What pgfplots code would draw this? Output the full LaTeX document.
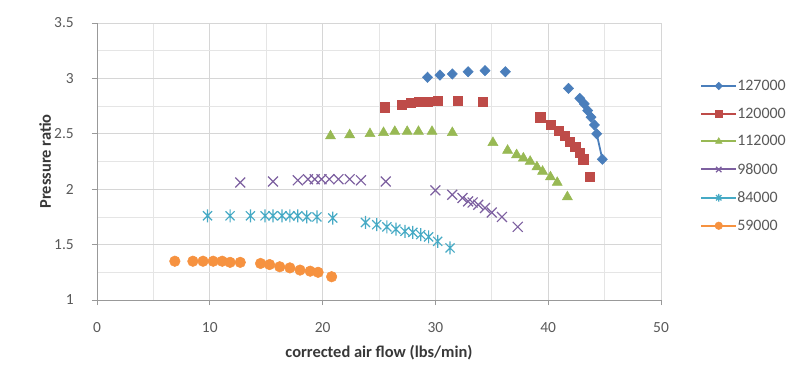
\documentclass[border=0pt]{standalone}
\usepackage{fontspec}
\setmainfont{Carlito}
\usepackage{pgfplots}
\pgfplotsset{compat=1.18}

\definecolor{cBlue}{HTML}{4A7EBB}
\definecolor{cRed}{HTML}{BE4B48}
\definecolor{cGreen}{HTML}{98B954}
\definecolor{cPurple}{HTML}{7D60A0}
\definecolor{cCyan}{HTML}{46AAC5}
\definecolor{cOrange}{HTML}{F69240}
\definecolor{cTick}{HTML}{595959}

\pgfdeclareplotmark{xstar}{%
 \pgfpathmoveto{\pgfqpoint{-.7\pgfplotmarksize}{-.7\pgfplotmarksize}}%
 \pgfpathlineto{\pgfqpoint{.7\pgfplotmarksize}{.7\pgfplotmarksize}}%
 \pgfpathmoveto{\pgfqpoint{-.7\pgfplotmarksize}{.7\pgfplotmarksize}}%
 \pgfpathlineto{\pgfqpoint{.7\pgfplotmarksize}{-.7\pgfplotmarksize}}%
 \pgfpathmoveto{\pgfqpoint{0pt}{-\pgfplotmarksize}}%
 \pgfpathlineto{\pgfqpoint{0pt}{\pgfplotmarksize}}%
 \pgfusepathqstroke}

\pgfplotstableread{
x y
29.3 3.01
30.4 3.03
31.5 3.04
32.9 3.06
34.4 3.07
36.2 3.06
41.8 2.91
42.8 2.82
43.2 2.77
43.5 2.71
43.8 2.65
44.1 2.58
44.3 2.50
44.8 2.27
}\tA
\pgfplotstableread{
x y
25.5 2.74
27.0 2.76
27.8 2.78
28.5 2.79
29.3 2.79
30.2 2.80
32.0 2.80
34.2 2.79
39.3 2.65
40.2 2.58
40.9 2.53
41.5 2.48
41.9 2.43
42.4 2.38
42.8 2.33
43.1 2.27
43.7 2.11
}\tB
\pgfplotstableread{
x y
20.7 2.48
22.4 2.49
24.2 2.50
25.4 2.51
26.4 2.52
27.5 2.52
28.5 2.52
29.7 2.52
31.5 2.51
35.1 2.42
36.4 2.35
37.2 2.31
37.8 2.28
38.4 2.25
39.0 2.20
39.5 2.16
40.2 2.11
40.8 2.06
41.7 1.93
}\tC
\pgfplotstableread{
x y
12.7 2.06
15.6 2.07
17.8 2.08
18.7 2.09
19.3 2.09
19.9 2.09
20.6 2.09
21.4 2.09
22.4 2.09
23.4 2.08
25.6 2.07
30.0 1.99
31.5 1.95
32.4 1.92
32.9 1.89
33.3 1.88
33.8 1.86
34.4 1.83
35.0 1.79
35.9 1.75
37.3 1.66
}\tD
\pgfplotstableread{
x y
9.8 1.76
11.8 1.76
13.6 1.76
14.9 1.76
15.6 1.76
16.4 1.76
17.1 1.76
17.8 1.76
18.6 1.75
19.5 1.75
20.9 1.74
23.8 1.70
24.8 1.68
25.7 1.66
26.5 1.64
27.3 1.62
28.0 1.61
28.7 1.59
29.4 1.57
30.2 1.53
31.3 1.47
}\tE
\pgfplotstableread{
x y
6.9 1.35
8.5 1.35
9.4 1.35
10.3 1.35
11.1 1.35
11.8 1.34
12.7 1.34
14.5 1.33
15.3 1.32
16.2 1.30
17.1 1.29
18.0 1.27
18.9 1.26
19.6 1.25
20.8 1.21
}\tF

\begin{document}
\begin{tikzpicture}
\path[use as bounding box] (-97bp,-80bp) rectangle (710bp,300bp);
\begin{axis}[
  at={(0,0)}, anchor=south west,
  scale only axis, width=564bp, height=277bp,
  xmin=0, xmax=50, ymin=1, ymax=3.5,
  xtick={0,10,...,50}, ytick={1,1.5,...,3.5},
  minor x tick num=1, minor y tick num=1,
  grid=both,
  major grid style={draw=black!16, line width=0.8bp},
  minor grid style={draw=black!10, line width=0.8bp},
  axis x line*=bottom, axis y line*=left,
  axis line style={draw=black!40, line width=0.9bp},
  tick align=outside, major tick length=5bp, minor tick length=0pt,
  tick style={draw=black!40, line width=0.8bp},
  /pgf/number format/assume math mode=true,
  ticklabel style={font=\fontsize{15.5}{18}\selectfont, text=cTick, inner sep=0pt},
  yticklabel style={xshift=-18bp},
  xticklabel style={yshift=-17bp},
  xlabel={corrected air flow (lbs/min)},
  ylabel={Pressure ratio},
  label style={font=\fontsize{16.5}{19}\selectfont\bfseries, text=black!78},
  xlabel style={at={(axis description cs:0.5,0)}, anchor=center, yshift=-53bp},
  ylabel style={at={(axis description cs:-0.092,0.5)}, anchor=center},
  legend style={at={(1.064,0.802)}, anchor=north west, draw=none, fill=none,
    font=\fontsize{16}{19}\selectfont, text=cTick, row sep=15.9bp,
    nodes={inner sep=0pt},
    /tikz/every even column/.append style={column sep=6bp}},
  legend cell align=left,
  legend image code/.code={\draw[#1, sharp plot, line width=2bp, mark size=3.8bp, mark repeat=2, mark phase=2] plot coordinates {(0bp,0bp)(17.5bp,0bp)(35bp,0bp)};},
]
\addplot[only marks, color=cBlue, mark=diamond*, mark size=5.2bp, mark options={xscale=1.3, line width=0.5bp}] table[x=x,y=y] {\tA};
\addlegendentry{127000}
\addplot[only marks, color=cRed, mark=square*, mark size=4.6bp, mark options={line width=0.5bp}] table[x=x,y=y] {\tB};
\addlegendentry{120000}
\addplot[only marks, color=cGreen, mark=triangle*, mark size=5.8bp, mark options={line width=0.5bp}] table[x=x,y=y] {\tC};
\addlegendentry{112000}
\addplot[only marks, color=cPurple, mark=x, mark size=7bp, mark options={line width=1.2bp}] table[x=x,y=y] {\tD};
\addlegendentry{98000}
\addplot[only marks, color=cCyan, mark=xstar, mark size=6.5bp, mark options={line width=1.2bp}] table[x=x,y=y] {\tE};
\addlegendentry{84000}
\addplot[only marks, color=cOrange, mark=*, mark size=5.3bp, mark options={line width=0.5bp}] table[x=x,y=y] {\tF};
\addlegendentry{59000}
\addplot[forget plot, no marks, color=cBlue, line width=1.8bp] coordinates {(44.3,2.50)(44.8,2.27)};
\end{axis}
\end{tikzpicture}
\end{document}
